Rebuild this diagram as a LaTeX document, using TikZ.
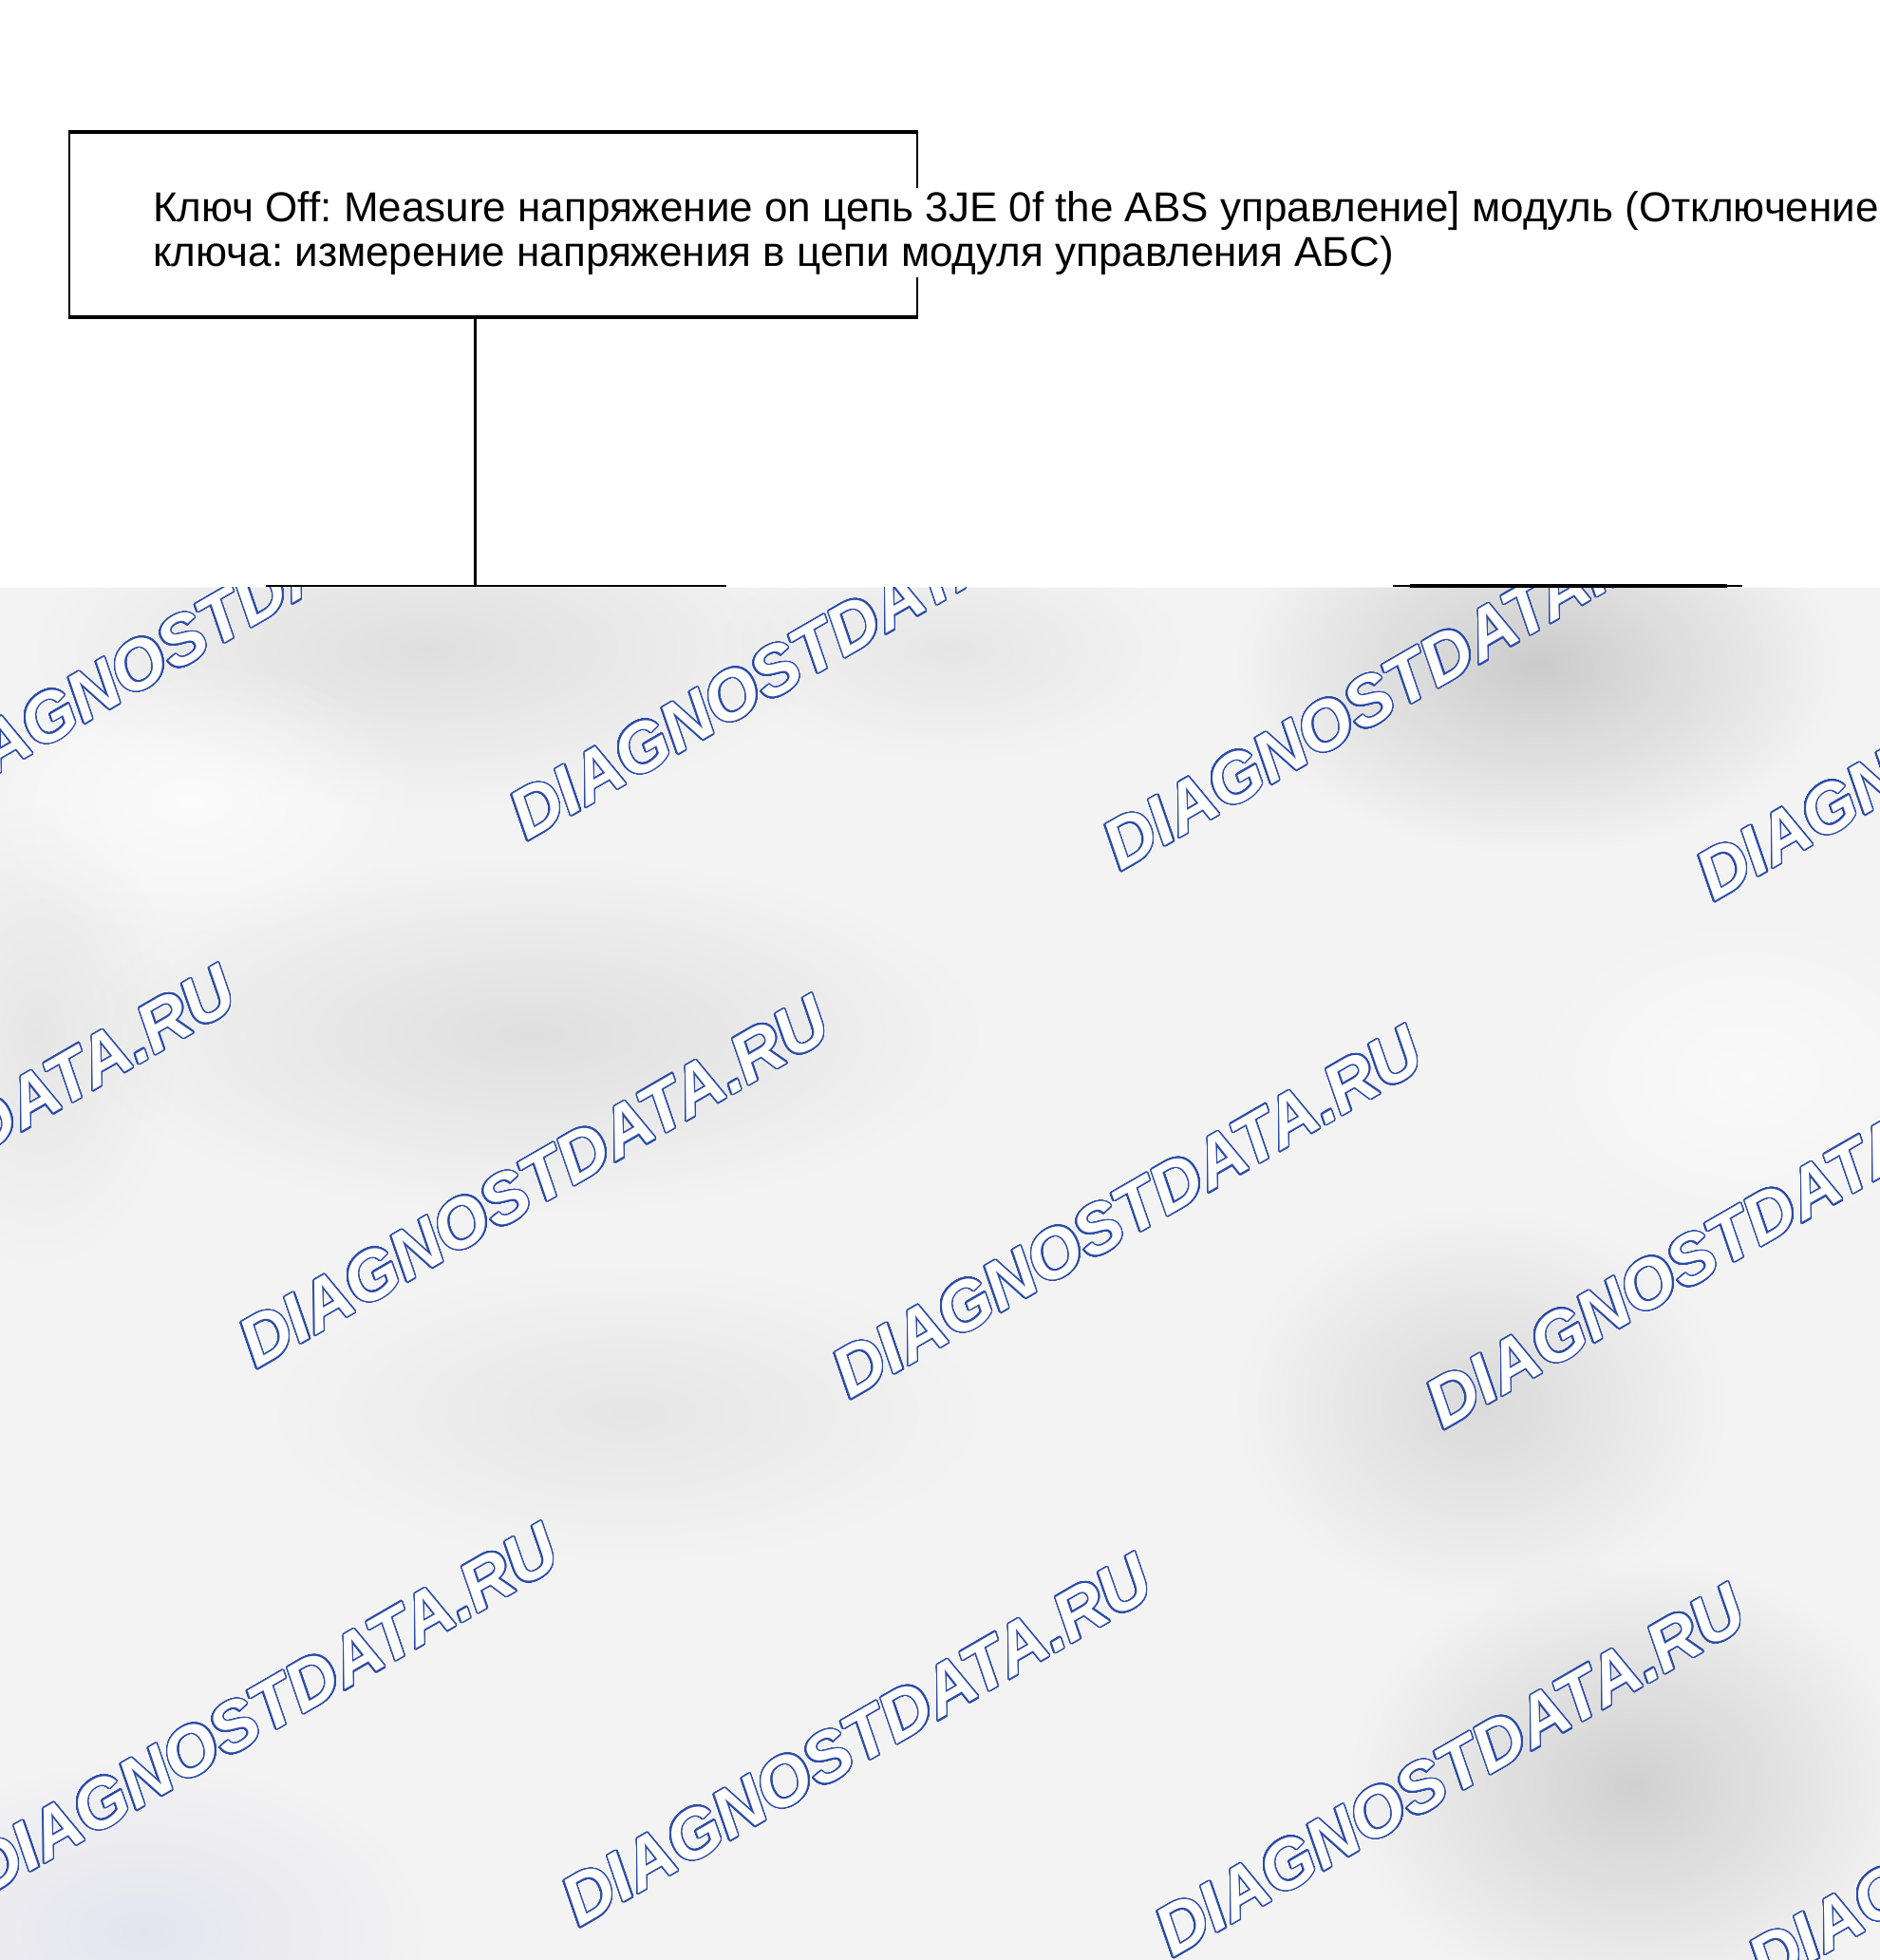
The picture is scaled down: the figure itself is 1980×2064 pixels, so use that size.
\documentclass[tikz,border=0pt]{standalone}
\usepackage{fontspec}
\setmainfont{Liberation Sans}
\newfontfamily\wmfont{Liberation Sans}
\usepackage{contour}
\usetikzlibrary{fadings}
\contourlength{1.4pt}
\contournumber{48}
\definecolor{wmblue}{HTML}{2C4CA8}
\definecolor{bgbase}{HTML}{F3F3F3}
\tikzfading[name=blobfade, inner color=transparent!0, outer color=transparent!100]
\newcommand{\wmtext}{\contour{wmblue}{\textcolor{white}{DIAGNOSTDATA.RU}}}
\frenchspacing
\begin{document}
\begin{tikzpicture}[x=1pt,y=1pt,
  boxline/.style={draw=black, line width=2pt},
  conn/.style={draw=black, line width=3pt},
  wm/.style={rotate=30, anchor=base west, inner sep=0pt, font=\wmfont\bfseries\itshape\fontsize{73}{73}\selectfont},
  blob/.style={path fading=blobfade, fill=black}]
\useasboundingbox (0,0) rectangle (1980,2064);
\fill[white] (0,0) rectangle (1980,2064);
% grey lower area with watermark
\begin{scope}
\clip (0,0) rectangle (1980,1445);
\fill[bgbase] (0,0) rectangle (1980,1445);
\fill[blob, opacity=0.16] (1620,1364) ellipse (320 and 200);
\fill[blob, opacity=0.08] (450,1380) ellipse (420 and 170);
\fill[blob, opacity=0.08] (560,974) ellipse (480 and 190);
\fill[blob, opacity=0.14] (1720,184) ellipse (300 and 240);
\fill[blob, opacity=0.10] (1560,584) ellipse (260 and 210);
\fill[blob, opacity=0.05] (660,576) ellipse (380 and 160);
\fill[blob, opacity=0.05] (1000,1380) ellipse (250 and 120);
\fill[blob, opacity=0.05] (40,974) ellipse (150 and 250);
\fill[path fading=blobfade, fill=blue!50!gray, opacity=0.08] (150,30) ellipse (300 and 180);
\fill[path fading=blobfade, fill=white, opacity=0.7] (200,1220) ellipse (250 and 150);
\fill[path fading=blobfade, fill=white, opacity=0.6] (1840,930) ellipse (250 and 180);
\node[wm] (w1) at (-70,1210) {\wmtext};
\node[wm] (w2) at (555,1178) {\wmtext};
\node[wm] (w3) at (1180,1146) {\wmtext};
\node[wm] (w4) at (1805,1114) {\wmtext};
\node[wm] (w5) at (-355,654) {\wmtext};
\node[wm] (w6) at (270,622) {\wmtext};
\node[wm] (w7) at (895,590) {\wmtext};
\node[wm] (w8) at (1520,558) {\wmtext};
\node[wm] (w9) at (-15,66) {\wmtext};
\node[wm] (w10) at (610,34) {\wmtext};
\node[wm] (w11) at (1235,2) {\wmtext};
\node[wm] (w12) at (1860,-30) {\wmtext};
\end{scope}
% box
\node[boxline, minimum width=893pt, minimum height=193pt, anchor=north west, inner sep=0pt] (box) at (72,1925) {};
\draw[line width=3.5pt] (box.north west) -- (box.north east);
\draw[line width=3.5pt] (box.south west) -- (box.south east);
\node[fill=white, inner xsep=0pt, inner ysep=3pt, anchor=north west, align=left,
      font=\fontsize{44}{47}\selectfont] (txt) at (161,1866)
  {Ключ Off: Measure напряжение on цепь 3JE 0f the ABS управление] модуль (Отключение\\
   ключа: измерение напряжения в цепи модуля управления АБС)};
% connectors
\coordinate (tee) at (500,1447);
\coordinate (hl) at (280,1447);
\coordinate (hr) at (765,1447);
\coordinate (rl) at (1467,1447);
\coordinate (rr) at (1835,1447);
\coordinate (rl2) at (1485,1447);
\coordinate (rr2) at (1819,1447);
\draw[conn] (box.south -| tee) -- (tee);
\draw[line width=2.5pt] (hl) -- (hr);
\draw[line width=2pt] (rl) -- (rr);
\draw[line width=4.5pt] (rl2) -- (rr2);
\end{tikzpicture}
\end{document}
